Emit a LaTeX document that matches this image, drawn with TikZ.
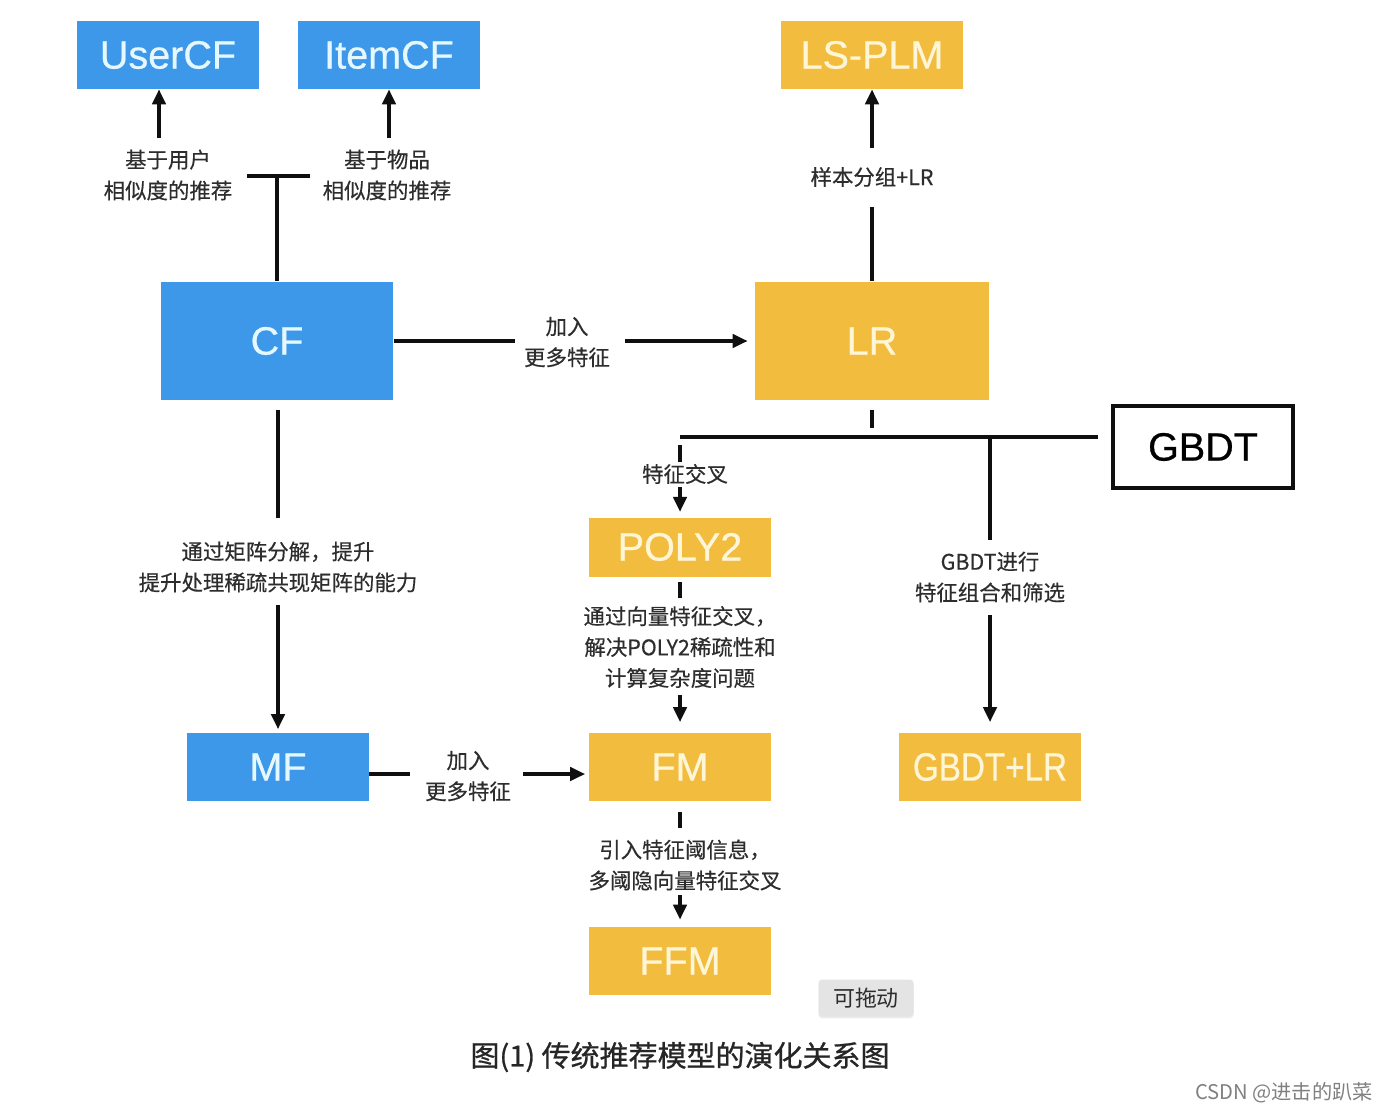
\documentclass[tikz,border=0pt]{standalone}
\usepackage{fontspec}
\setmainfont{Liberation Sans}
\newfontfamily\boxfont[FakeBold=0.6]{Liberation Sans}
\newfontfamily\cjk[FakeBold=0.4]{Noto Sans CJK SC}
\newfontfamily\cjkcap[FakeBold=0.9]{Noto Sans CJK SC}
\newfontfamily\cjkplain{Noto Sans CJK SC}
\usetikzlibrary{arrows.meta,shadows}
\definecolor{cfblue}{RGB}{61,152,233}
\definecolor{cfyel}{RGB}{242,188,62}
\definecolor{bluetxt}{RGB}{230,248,255}
\definecolor{yeltxt}{RGB}{255,246,215}
\definecolor{lblgray}{RGB}{45,45,45}
\definecolor{lnblack}{RGB}{15,15,15}
\definecolor{btngray}{RGB}{228,228,228}
\tikzset{
  boxbase/.style={inner sep=0pt, minimum width=3.64cm, minimum height=1.36cm,
    font=\boxfont\fontsize{22.5}{27}\selectfont},
  bbox/.style={boxbase, fill=cfblue, text=bluetxt},
  ybox/.style={boxbase, fill=cfyel, text=yeltxt},
  gbox/.style={boxbase, draw=lnblack, line width=2pt, fill=white, text=black,
    minimum width=3.6cm, minimum height=1.64cm},
  lbl/.style={font=\cjk\fontsize{12.2}{17.6}\selectfont, text=lblgray, align=center, inner sep=0pt},
  ln/.style={line width=2pt, draw=lnblack},
  arr/.style={ln, -{Triangle[width=7.5pt,length=8.5pt]}},
}
\begin{document}
\begin{tikzpicture}[x=0.02cm,y=-0.02cm]
\useasboundingbox[fill=white] (0,0) rectangle (1388,1112);

% boxes
\node[bbox] (UserCF) at (168,55) {UserCF};
\node[bbox] (ItemCF) at (389,55) {ItemCF};
\node[ybox] (LSPLM) at (872,55) {LS-PLM};
\node[bbox, minimum width=4.66cm, minimum height=2.38cm] (CF) at (277,341) {CF};
\node[ybox, minimum width=4.68cm, minimum height=2.38cm] (LR) at (872,341) {LR};
\node[gbox] (GBDT) at (1203,447) {GBDT};
\node[ybox, minimum height=1.18cm] (POLY2) at (680,547) {POLY2};
\node[bbox] (MF) at (278,767) {MF};
\node[ybox] (FM) at (680,767) {FM};
\node[ybox] (GBDTLR) at (990,767) {\scalebox{0.84}[1]{GBDT+LR}};
\node[ybox] (FFM) at (680,961) {FFM};

% labels
\node[lbl] (lU) at (168,175) {基于用户\\相似度的推荐};
\node[lbl] (lI) at (387,175) {基于物品\\相似度的推荐};
\node[lbl] (lLS) at (872,177) {样本分组+LR};
\node[lbl] (lCL) at (567,342) {加入\\更多特征};
\node[lbl] (lX) at (685,474) {特征交叉};
\node[lbl] (lG) at (990,577) {GBDT进行\\特征组合和筛选};
\node[lbl] (lMF) at (278,567) {通过矩阵分解，提升\\提升处理稀疏共现矩阵的能力};
\node[lbl] (lP) at (680,647) {通过向量特征交叉，\\解决POLY2稀疏性和\\计算复杂度问题};
\node[lbl] (lMFM) at (468,776) {加入\\更多特征};
\node[lbl] (lF) at (685,865) {引入特征阈信息，\\多阈隐向量特征交叉};

% coordinates
\coordinate (u1) at (159,138);
\coordinate (i1) at (389,138);
\coordinate (tl) at (247,176);
\coordinate (tr) at (310,176);
\coordinate (c1) at (515,341);
\coordinate (c2) at (625,341);
\coordinate (ls1) at (872,207);
\coordinate (ls2) at (872,148);
\coordinate (lrb1) at (872,410);
\coordinate (lrb2) at (872,428);
\coordinate (hl) at (680,437);
\coordinate (hr) at (1098,437);
\coordinate (hg) at (990,437);
\coordinate (g1) at (990,540);
\coordinate (g2) at (990,615);
\coordinate (x1) at (680,445);
\coordinate (x2) at (680,462);
\coordinate (x3) at (680,487);
\coordinate (m1) at (278,410);
\coordinate (m2) at (278,518);
\coordinate (m3) at (278,605);
\coordinate (p1) at (680,582);
\coordinate (p2) at (680,598);
\coordinate (p3) at (680,695);
\coordinate (f1) at (680,812);
\coordinate (f2) at (680,828);
\coordinate (f3) at (680,895);
\coordinate (mf1) at (410,774);
\coordinate (mf2) at (523,774);

% connectors
\draw[arr] (u1) -- (u1 |- UserCF.south);
\draw[arr] (i1) -- (ItemCF.south);
\draw[ln] (tl) -- (tr);
\draw[ln] (CF.north |- tl) -- (CF.north);
\draw[ln] (CF.east) -- (c1);
\draw[arr, shorten >=4pt] (c2) -- (LR.west);
\draw[ln] (LR.north) -- (ls1);
\draw[arr] (ls2) -- (LSPLM.south);
\draw[ln] (lrb1) -- (lrb2);
\draw[ln] (hl) -- (hr);
\draw[ln] (hg) -- (g1);
\draw[arr, shorten >=6pt] (g2) -- (GBDTLR.north);
\draw[ln] (x1) -- (x2);
\draw[arr, shorten >=3pt] (x3) -- (POLY2.north);
\draw[ln] (m1) -- (m2);
\draw[arr, shorten >=2pt] (m3) -- (MF.north);
\draw[ln] (p1) -- (p2);
\draw[arr, shorten >=6pt] (p3) -- (FM.north);
\draw[ln] (f1) -- (f2);
\draw[arr, shorten >=4pt] (f3) -- (FFM.north);
\draw[ln] (MF.east |- mf1) -- (mf1);
\draw[arr, shorten >=2pt] (mf2) -- (mf2 -| FM.west);

% caption and overlays
\node[font=\cjkcap\fontsize{16.5}{19}\selectfont, text=black!85] (cap) at (680,1057) {图(1) 传统推荐模型的演化关系图};
\node[font=\cjkplain\fontsize{11.5}{14}\selectfont, text=black!50, anchor=east, inner sep=0pt] (csdn) at (1373,1093) {CSDN @进击的趴菜};
\node[fill=btngray, rounded corners=2pt, minimum width=1.9cm, minimum height=0.74cm, inner sep=0pt,
  drop shadow={opacity=0.15, shadow xshift=0pt, shadow yshift=-1pt},
  font=\cjkplain\fontsize{12.5}{14}\selectfont, text=lblgray] (btn) at (866,998) {可拖动};
\end{tikzpicture}
\end{document}
